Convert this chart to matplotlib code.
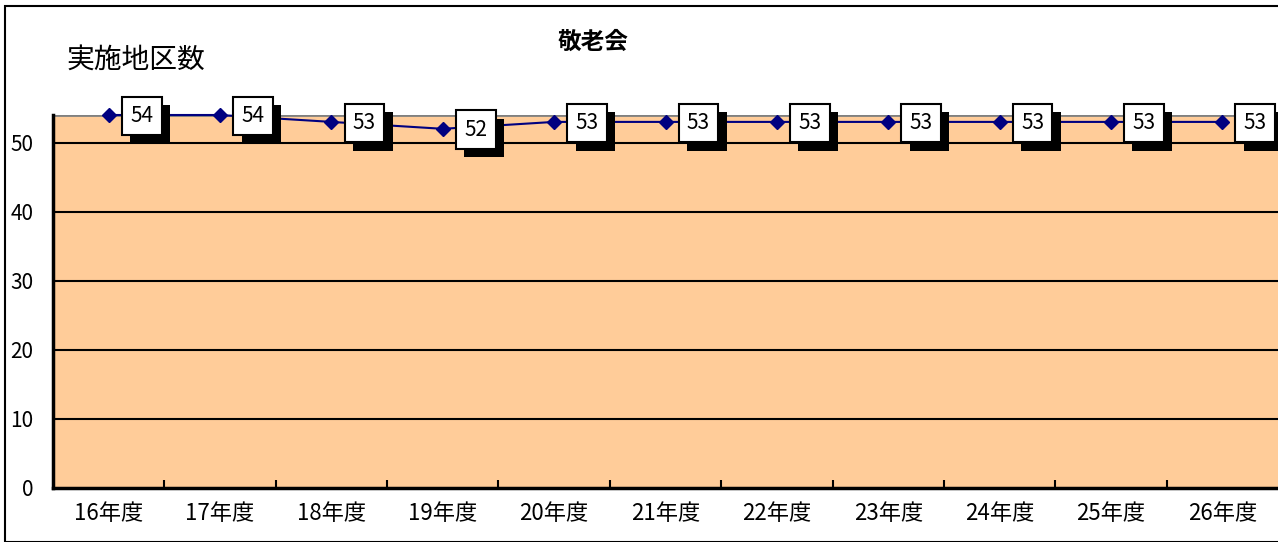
import matplotlib
matplotlib.use("Agg")
import matplotlib.pyplot as plt
import matplotlib.patheffects as pe
from matplotlib.patches import Rectangle

plt.rcParams['font.family'] = ['Noto Sans CJK JP', 'DejaVu Sans']

# data
years = ["16年度", "17年度", "18年度", "19年度", "20年度", "21年度",
         "22年度", "23年度", "24年度", "25年度", "26年度"]
counts = [54, 54, 53, 52, 53, 53, 53, 53, 53, 53, 53]
yticks = [0, 10, 20, 30, 40, 50]

fig = plt.figure(figsize=(12.78, 5.42), dpi=100)
ax = fig.add_axes([53 / 1278, 1 - 488 / 542, 1225 / 1278, 373 / 542])
ax.set_facecolor("#FFCC99")

x = list(range(len(years)))
ax.set_xlim(-0.5, len(years) - 0.5)
ax.set_ylim(0, 54)

for v in yticks[1:]:
    ax.axhline(v, color="black", lw=1.5, zorder=1)
ax.axhline(54, color="#808080", lw=2, zorder=1)

ax.plot(x, counts, color="#000080", lw=1.5, marker="D", ms=7,
        mec="#000080", mfc="#000080", zorder=3, clip_on=False)

# data labels with drop shadow
shadow = [pe.SimplePatchShadow(offset=(6, -6), shadow_rgbFace="black", alpha=1), pe.Normal()]
for xi, v in zip(x, counts):
    t = ax.annotate(str(v), (xi, v), xytext=(33, -1), textcoords="offset pixels",
                    ha="center", va="center", fontsize=15, color="black",
                    bbox=dict(boxstyle="square,pad=0.4", fc="white", ec="black", lw=1.5),
                    zorder=5, annotation_clip=False)
    t.get_bbox_patch().set_path_effects(shadow)

ax.set_yticks(yticks)
ax.set_yticklabels([str(t) for t in yticks], fontsize=15)
ax.tick_params(axis="y", length=0, pad=14)

ax.set_xticks(x)
ax.set_xticklabels(years, fontsize=16)
ax.tick_params(axis="x", length=0, pad=10)
ax.set_xticks([i + 0.5 for i in x[:-1]], minor=True)
ax.tick_params(axis="x", which="minor", direction="in", length=6, width=1.5)

for s in ["top", "right"]:
    ax.spines[s].set_visible(False)
ax.spines["left"].set_linewidth(2.5)
ax.spines["bottom"].set_linewidth(2.5)

fig.text(593 / 1278, 1 - 42 / 542, "敬老会", ha="center", va="center",
         fontsize=17, fontweight="bold")
fig.text(67 / 1278, 1 - 60 / 542, "実施地区数", ha="left", va="center",
         fontsize=20)

fig.patches.append(Rectangle((5 / 1278, 0), 1.1, 1 - 6 / 542, transform=fig.transFigure,
                             fill=False, ec="black", lw=1.5))

fig.savefig("out.png", dpi=100)
